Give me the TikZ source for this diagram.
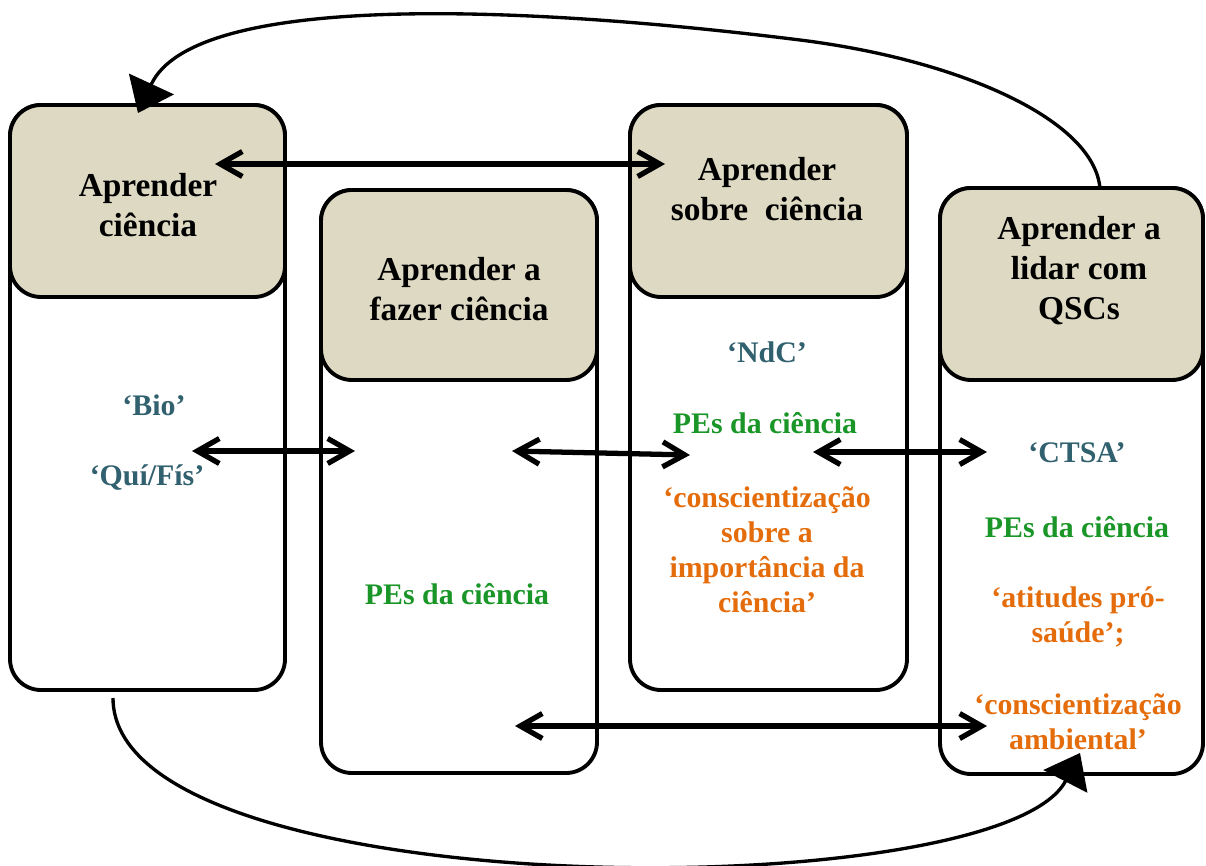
\documentclass[tikz,border=0pt]{standalone}
\usepackage{fontspec}
\setmainfont{Liberation Serif}
\usetikzlibrary{arrows.meta,fit}
\definecolor{headtan}{RGB}{221,217,195}
\definecolor{labteal}{RGB}{49,96,110}
\definecolor{labgreen}{RGB}{26,150,40}
\definecolor{laborange}{RGB}{228,108,10}
\begin{document}
\begin{tikzpicture}[x=0.02cm, y=-0.02cm, >={Straight Barb[length=0.44cm,width=0.5cm]},
		outerbox/.style={draw, line width=2.2pt, rounded corners=0.62cm, fill=white, inner sep=0pt},
		headbox/.style={draw, line width=2.2pt, rounded corners=0.62cm, fill=headtan, inner sep=0pt},
		headtext/.style={align=center, font=\fontsize{19}{22.8}\selectfont\bfseries},
		bodytext/.style={align=center, font=\fontsize{17}{20}\selectfont\bfseries},
		linkarrow/.style={<->, line width=3pt, line cap=round},
		looparrow/.style={-{Triangle[length=0.64cm,width=0.98cm]}, line width=1.9pt}]
		\useasboundingbox (0,0) rectangle (1206,865);
		
		% BOX 1: Aprender ciencia
		\node[outerbox, fit={(10,105) (285,690)}] (b1) {};
		\node[headbox, fit={(10,105) (285,297)}] (h1) {};
		\node[headtext] (t1) at (148,205) {Aprender\\ciência};
		\node[bodytext, labteal] (bio) at (154,405) {‘Bio’};
		\node[bodytext, labteal] (quifis) at (147,478) {‘Quí/Fís’};
		
		% BOX 2: Aprender a fazer ciencia
		\node[outerbox, fit={(321,190) (597,773)}] (b2) {};
		\node[headbox, fit={(321,190) (597,380)}] (h2) {};
		\node[headtext] (t2) at (459,289) {Aprender a\\fazer ciência};
		\node[bodytext, labgreen] (pes2) at (457,594) {PEs da ciência};
		
		% BOX 3: Aprender sobre ciencia
		\node[outerbox, fit={(630,105) (907,690)}] (b3) {};
		\node[headbox, fit={(630,105) (907,297)}] (h3) {};
		\node[headtext] (t3) at (767,189) {Aprender\\sobre\ \ ciência};
		\node[bodytext, labteal] (ndc) at (767,352) {‘NdC’};
		\node[bodytext, labgreen] (pes3) at (765,423) {PEs da ciência};
		\node[bodytext, laborange] (consc3) at (767,550) {‘conscientização\\sobre a\\importância da\\ciência’};
		
		% BOX 4: Aprender a lidar com QSCs
		\node[outerbox, fit={(940,188) (1203,774)}] (b4) {};
		\node[headbox, fit={(940,188) (1203,380)}] (h4) {};
		\node[headtext] (t4) at (1079,271) {Aprender a\\lidar com\\QSCs};
		\node[bodytext, labteal] (ctsa) at (1077,453) {‘CTSA’};
		\node[bodytext, labgreen] (pes4) at (1077,527) {PEs da ciência};
		\node[bodytext, laborange] (atit) at (1078,617) {‘atitudes pró-\\saúde’;};
		\node[bodytext, laborange] (amb) at (1078,722) {‘conscientização\\ambiental’};
		
		% arrow end points
		\coordinate (p1a) at (215,164);
		\coordinate (p1b) at (665,164);
		\coordinate (p2a) at (192,451);
		\coordinate (p2b) at (355,451);
		\coordinate (p3a) at (512,451);
		\coordinate (p3b) at (690,455);
		\coordinate (p4a) at (813,452);
		\coordinate (p4b) at (987,452);
		\coordinate (p5a) at (515,726);
		\coordinate (p5b) at (987,726);
		\coordinate (topstart) at (1100,189);
		\coordinate (topbend) at (800,40);
		\coordinate (topend) at (138,113);
		\coordinate (botstart) at (113,698);
		\coordinate (botend) at (1080,753);
		
		% straight links
		\draw[linkarrow] (p1a) -- (p1b);
		\draw[linkarrow] (p2a) -- (p2b);
		\draw[linkarrow] (p3a) -- (p3b);
		\draw[linkarrow] (p4a) -- (p4b);
		\draw[linkarrow] (p5a) -- (p5b);
		
		% big loop, over the top and under the bottom
		\draw[looparrow] (topstart) .. controls (1095,120) and (960,60) .. (topbend)
			.. controls (520,5) and (194,-8) .. (topend);
		\draw[looparrow] (botstart) .. controls (113,908) and (1000,908) .. (botend);
	\end{tikzpicture}
\end{document}
